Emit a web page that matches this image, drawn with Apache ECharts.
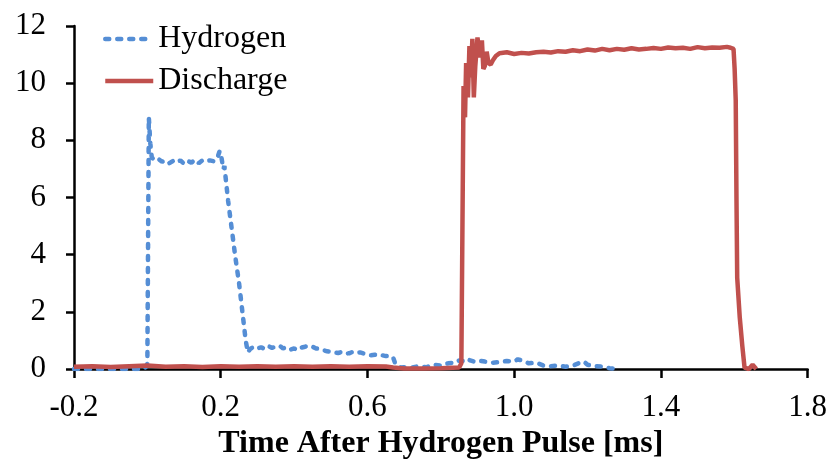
<!DOCTYPE html>
<html>
<head>
<meta charset="utf-8">
<script src="https://cdn.jsdelivr.net/npm/echarts@6/dist/echarts.min.js"></script>
<style>
  html, body { margin: 0; padding: 0; background: #fff; }
  #chart { width: 830px; height: 465px; }
</style>
</head>
<body>
<div id="chart"></div>
<script>
// tick labels on the time axis
var xTicks = [-0.2, 0.2, 0.6, 1.0, 1.4, 1.8];
var yTicks = [0, 2, 4, 6, 8, 10, 12];

// Hydrogen signal (time in ms, value)
var hydroT = [-0.2, -0.1, -0.01, -0.002, 0.0, 0.004, 0.008, 0.012, 0.02,
  0.03, 0.04, 0.05, 0.06, 0.07, 0.08, 0.09, 0.1, 0.11, 0.12, 0.13, 0.14, 0.15, 0.16, 0.17, 0.18, 0.19, 0.197, 0.202, 0.207,
  0.21, 0.22, 0.23, 0.24, 0.25, 0.26, 0.268, 0.274, 0.28, 0.29,
  0.3, 0.31, 0.32, 0.33, 0.34, 0.35, 0.36, 0.37, 0.38, 0.39, 0.4, 0.41, 0.42, 0.43, 0.44, 0.45, 0.46, 0.47, 0.48, 0.49,
  0.5, 0.51, 0.52, 0.53, 0.54, 0.55, 0.56, 0.57, 0.58, 0.59, 0.6, 0.61, 0.62, 0.63, 0.64, 0.65, 0.66, 0.67, 0.675, 0.68, 0.69,
  0.7, 0.72, 0.74, 0.76, 0.78, 0.8, 0.82, 0.84, 0.85, 0.86, 0.87, 0.88, 0.89, 0.9, 0.92, 0.94, 0.96, 0.98,
  1.0, 1.01, 1.02, 1.04, 1.06, 1.08, 1.1, 1.12, 1.14, 1.16, 1.18, 1.19, 1.2, 1.22, 1.24, 1.26, 1.28];
var hydroV = [0, 0, 0, 0.1, 0.2, 8.8, 7.9, 7.4, 7.3,
  7.35, 7.25, 7.3, 7.2, 7.28, 7.22, 7.3, 7.18, 7.28, 7.22, 7.32, 7.2, 7.3, 7.26, 7.3, 7.27, 7.35, 7.62, 7.4, 7.0,
  7.1, 5.9, 4.9, 3.9, 3.0, 1.9, 1.0, 0.58, 0.7, 0.78,
  0.72, 0.76, 0.7, 0.8, 0.74, 0.78, 0.82, 0.72, 0.76, 0.68, 0.72, 0.66, 0.75, 0.78, 0.82, 0.78, 0.72, 0.7, 0.66, 0.62,
  0.6, 0.58, 0.56, 0.6, 0.54, 0.55, 0.6, 0.56, 0.58, 0.54, 0.5, 0.48, 0.5, 0.46, 0.48, 0.45, 0.47, 0.4, 0.22, 0.12, 0.05,
  0.06, 0.05, 0.1, 0.06, 0.15, 0.12, 0.2, 0.22, 0.3, 0.28, 0.36, 0.3, 0.26, 0.3, 0.26, 0.22, 0.24, 0.28,
  0.26, 0.34, 0.3, 0.2, 0.22, 0.12, 0.1, 0.12, 0.08, 0.12, 0.22, 0.26, 0.15, 0.1, 0.08, 0.03, 0];

// Discharge signal (time in ms, value)
var dischT = [-0.2, -0.15, -0.1, -0.05, 0.0, 0.05, 0.1, 0.15, 0.2, 0.25, 0.3, 0.35, 0.4, 0.45, 0.5, 0.55, 0.6, 0.65, 0.67,
  0.7, 0.75, 0.8, 0.85, 0.856, 0.862, 0.866, 0.869, 0.874, 0.878, 0.882, 0.886, 0.89, 0.894, 0.9, 0.906, 0.912, 0.916,
  0.92, 0.925, 0.93, 0.936, 0.942, 0.95, 0.96, 0.98,
  1.0, 1.02, 1.04, 1.06, 1.08, 1.1, 1.12, 1.14, 1.16, 1.18, 1.2, 1.22, 1.24, 1.26, 1.28, 1.3, 1.32, 1.34, 1.36, 1.38,
  1.4, 1.42, 1.44, 1.46, 1.48, 1.5, 1.52, 1.54, 1.56, 1.58, 1.59, 1.598, 1.601, 1.604, 1.606, 1.608, 1.615, 1.622, 1.628,
  1.64, 1.65, 1.66];
var dischV = [0.08, 0.1, 0.07, 0.1, 0.12, 0.08, 0.1, 0.07, 0.1, 0.08, 0.1, 0.08, 0.1, 0.08, 0.1, 0.08, 0.1, 0.09, 0.05,
  0.02, 0.02, 0.03, 0.05, 0.2, 9.9, 8.8, 10.7, 9.5, 11.3, 10.2, 11.55, 9.5, 10.6, 11.6, 10.9, 11.5, 10.5,
  10.6, 11.1, 10.7, 10.65, 10.8, 10.95, 11.05, 11.08,
  11.02, 11.06, 11.04, 11.08, 11.1, 11.07, 11.12, 11.1, 11.15, 11.12, 11.18, 11.14, 11.2, 11.15, 11.2, 11.17, 11.22, 11.18, 11.2, 11.23,
  11.2, 11.25, 11.22, 11.24, 11.2, 11.26, 11.22, 11.25, 11.24, 11.27, 11.24, 11.2, 10.5, 9.4, 6.0, 3.2, 1.8, 0.8, 0.05,
  0, 0.15, 0];

var serif = 'Liberation Serif, Times New Roman, serif';

function pairs(ts, vs) {
  return ts.map(function (t, i) { return [t, vs[i]]; });
}

var chart = echarts.init(document.getElementById('chart'), null, { renderer: 'canvas' });
var option = {
  animation: false,
  backgroundColor: '#fff',
  grid: { left: 74, right: 22, top: 26, bottom: 92, containLabel: false },
  legend: {
    orient: 'vertical',
    left: 98,
    top: 18,
    itemWidth: 48,
    itemHeight: 14,
    itemGap: 10,
    itemStyle: { opacity: 0 },
    lineStyle: { width: 4.5 },
    textStyle: { fontFamily: serif, fontSize: 32, color: '#000' },
    data: ['Hydrogen', 'Discharge']
  },
  xAxis: {
    type: 'value',
    min: -0.2,
    max: 1.8,
    name: 'Time After Hydrogen Pulse [ms]',
    nameLocation: 'middle',
    nameGap: 59,
    nameTextStyle: { fontFamily: serif, fontSize: 32, fontWeight: 'bold', color: '#000' },
    splitLine: { show: false },
    axisLine: { lineStyle: { color: '#000', width: 2.5 } },
    axisTick: { customValues: xTicks, length: 9, lineStyle: { color: '#000', width: 2.5 } },
    axisLabel: {
      customValues: xTicks,
      margin: 23,
      fontFamily: serif, fontSize: 31, color: '#000',
      formatter: function (v) { return v.toFixed(1); }
    }
  },
  yAxis: {
    type: 'value',
    min: 0,
    max: 12,
    interval: 2,
    splitLine: { show: false },
    axisLine: { show: true, onZero: false, lineStyle: { color: '#000', width: 2.5 } },
    axisTick: { show: true, customValues: yTicks, length: 8, lineStyle: { color: '#000', width: 2.5 } },
    axisLabel: { customValues: yTicks, margin: 28, fontFamily: serif, fontSize: 31, color: '#000' }
  },
  series: [
    {
      name: 'Hydrogen',
      type: 'line',
      symbol: 'none',
      color: '#558ED5',
      lineStyle: { width: 4.5, type: [4, 8], cap: 'round', color: '#558ED5' },
      data: pairs(hydroT, hydroV)
    },
    {
      name: 'Discharge',
      type: 'line',
      symbol: 'none',
      color: '#C0504D',
      lineStyle: { width: 4.5, color: '#C0504D' },
      data: pairs(dischT, dischV)
    }
  ]
};
chart.setOption(option);
</script>
</body>
</html>
